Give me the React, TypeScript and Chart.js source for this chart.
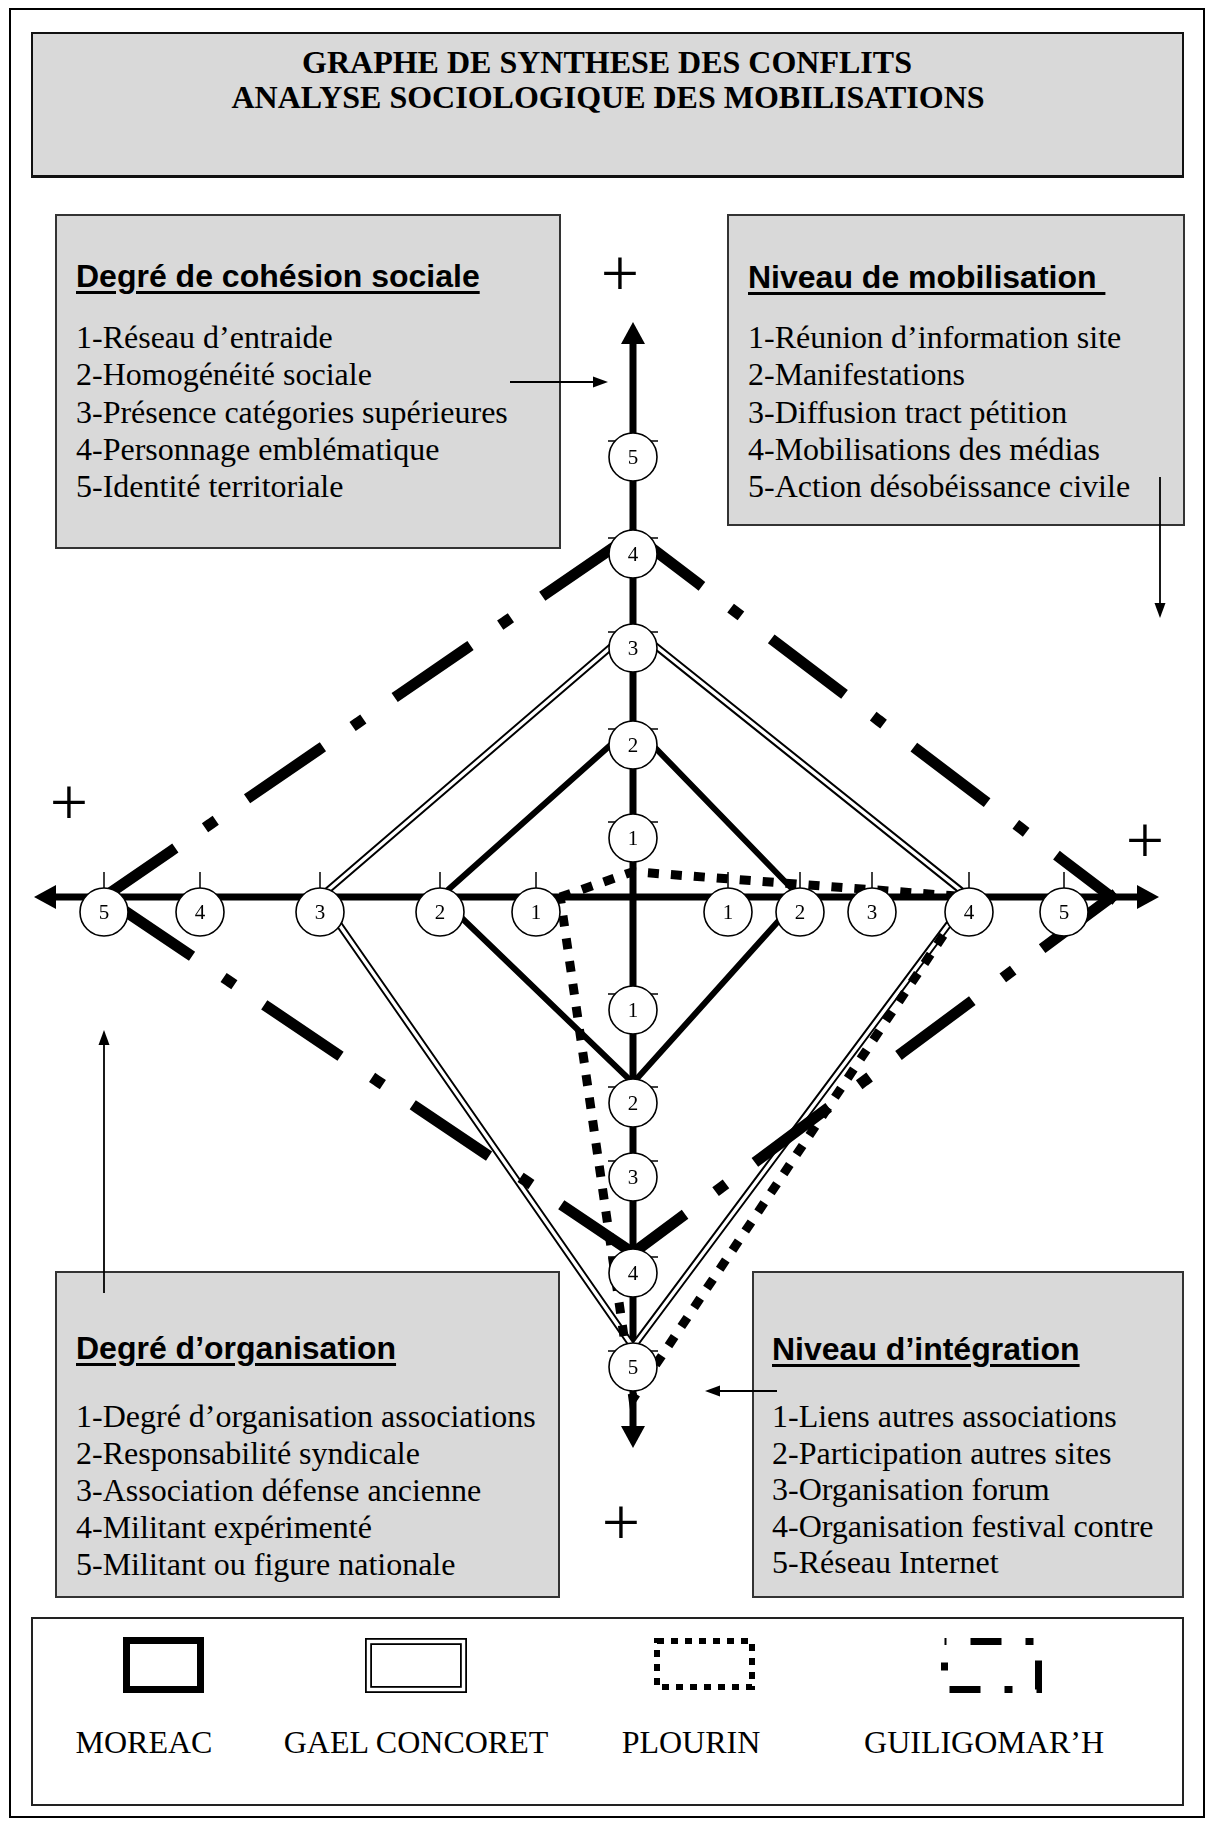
import React, { useEffect, useRef } from 'react';
import { Chart, registerables } from 'chart.js';

Chart.register(...registerables);

// ---------------- data ----------------
const TITLE_LINES = ['GRAPHE DE SYNTHESE DES CONFLITS', 'ANALYSE SOCIOLOGIQUE DES MOBILISATIONS'];

const AXIS_TITLES = ['Degré de cohésion sociale', 'Niveau de mobilisation ', 'Niveau d’intégration', 'Degré d’organisation'];
const COHESION_ITEMS = ['1-Réseau d’entraide', '2-Homogénéité sociale', '3-Présence catégories supérieures', '4-Personnage emblématique', '5-Identité territoriale'];
const MOBILISATION_ITEMS = ['1-Réunion d’information site', '2-Manifestations', '3-Diffusion tract pétition', '4-Mobilisations des médias', '5-Action désobéissance civile'];
const INTEGRATION_ITEMS = ['1-Liens autres associations', '2-Participation autres sites', '3-Organisation forum', '4-Organisation festival contre', '5-Réseau Internet'];
const ORGANISATION_ITEMS = ['1-Degré d’organisation associations', '2-Responsabilité syndicale', '3-Association défense ancienne', '4-Militant expérimenté', '5-Militant ou figure nationale'];

const LEVEL_LABELS = ['1', '2', '3', '4', '5'];
// graduation distances from the crossing of the axes (scale units), levels 1..5
const TOP_GRAD = [79, 172, 269, 363, 460];      // cohésion sociale
const RIGHT_GRAD = [95, 167, 239, 336, 431];    // mobilisation
const BOTTOM_GRAD = [93, 186, 260, 356, 450];   // intégration
const LEFT_GRAD = [97, 193, 313, 433, 529];     // organisation

const SERIES_NAMES = ['MOREAC', 'GAEL CONCORET', 'PLOURIN', 'GUILIGOMAR’H'];
// levels: [cohésion (top), mobilisation (right), intégration (bottom), organisation (left)]
const MOREAC = [2, 2, 2, 2];
const GAEL_CONCORET = [3, 4, 5, 3];
const PLOURIN = [0.32, 4, 5.55, 0.75];
const GUILIGOMARH = [4, 5.5, 4, 5];

// ---------------- layout ----------------
const W = 1210;
const H = 1825;
const CX = 633; // crossing of the axes on the page
const CY = 897;
const AXIS_END = { left: 599, right: 526, top: 575, bottom: 551 };

const SERIF = '"Liberation Serif", "Times New Roman", serif';
const SANS = '"Liberation Sans", Arial, sans-serif';

function dist(grad: number[], level: number): number {
  if (level <= 1) return grad[0] * level;
  let i = Math.floor(level) - 1;
  if (i > grad.length - 2) i = grad.length - 2;
  const t = level - (i + 1);
  return grad[i] + (grad[i + 1] - grad[i]) * t;
}

function polygon(levels: number[]) {
  const left = { x: -dist(LEFT_GRAD, levels[3]), y: 0 };
  return [
    left,
    { x: 0, y: dist(TOP_GRAD, levels[0]) },
    { x: dist(RIGHT_GRAD, levels[1]), y: 0 },
    { x: 0, y: -dist(BOTTOM_GRAD, levels[2]) },
    { ...left },
  ];
}

const GUILI_W = 11;
// dash, gap, dot, gap (square caps add the line width to each piece)
const GUILI_DASH = [92 - GUILI_W, 36 + GUILI_W, 13 - GUILI_W, 38 + GUILI_W];

const LEGEND_RECTS = [
  [123, 1637, 204, 1693],
  [365, 1638, 467, 1693],
  [654, 1638, 755, 1690],
  [941, 1638, 1042, 1693],
];
const LEGEND_LABEL_X = [144, 416, 691, 984];

function arrowHead(ctx: CanvasRenderingContext2D, tx: number, ty: number, dx: number, dy: number, len: number, half: number) {
  const bx = tx - dx * len, by = ty - dy * len;
  ctx.beginPath();
  ctx.moveTo(tx, ty);
  ctx.lineTo(bx - dy * half, by + dx * half);
  ctx.lineTo(bx + dy * half, by - dx * half);
  ctx.closePath();
  ctx.fill();
}

function thinArrow(ctx: CanvasRenderingContext2D, x0: number, y0: number, x1: number, y1: number) {
  const L = Math.hypot(x1 - x0, y1 - y0);
  const dx = (x1 - x0) / L, dy = (y1 - y0) / L;
  ctx.lineWidth = 1.8;
  ctx.beginPath();
  ctx.moveTo(x0, y0);
  ctx.lineTo(x1 - dx * 10, y1 - dy * 10);
  ctx.stroke();
  arrowHead(ctx, x1, y1, dx, dy, 15, 5.5);
}

const diagramPlugin = {
  id: 'diagram',
  beforeDatasetsDraw(chart: any) {
    const { ctx, scales } = chart;
    const px = (u: number) => scales.x.getPixelForValue(u);
    const py = (v: number) => scales.y.getPixelForValue(v);
    const ox = px(0), oy = py(0);
    const L = px(-AXIS_END.left), R = px(AXIS_END.right);
    const T = py(AXIS_END.top), B = py(-AXIS_END.bottom);
    ctx.save();
    ctx.strokeStyle = '#000';
    ctx.fillStyle = '#000';
    ctx.lineWidth = 7;
    ctx.lineCap = 'butt';
    ctx.beginPath();
    ctx.moveTo(L + 18, oy);
    ctx.lineTo(R - 18, oy);
    ctx.moveTo(ox, T + 18);
    ctx.lineTo(ox, B - 18);
    ctx.stroke();
    arrowHead(ctx, L, oy, -1, 0, 22, 12);
    arrowHead(ctx, R, oy, 1, 0, 22, 12);
    arrowHead(ctx, ox, T, 0, -1, 22, 12);
    arrowHead(ctx, ox, B, 0, 1, 22, 12);
    ctx.restore();
  },
  afterDatasetsDraw(chart: any) {
    const { ctx, scales } = chart;
    const px = (u: number) => scales.x.getPixelForValue(u);
    const py = (v: number) => scales.y.getPixelForValue(v);
    const ox = px(0), oy = py(0);
    const R = 24;
    ctx.save();
    ctx.strokeStyle = '#000';
    ctx.fillStyle = '#000';
    const bubble = (cx: number, cy: number, label: string) => {
      ctx.beginPath();
      ctx.arc(cx, cy, R, 0, Math.PI * 2);
      ctx.fillStyle = '#fff';
      ctx.fill();
      ctx.lineWidth = 1.6;
      ctx.strokeStyle = '#000';
      ctx.stroke();
      ctx.fillStyle = '#000';
      ctx.font = `21px ${SERIF}`;
      ctx.textAlign = 'center';
      ctx.textBaseline = 'middle';
      ctx.fillText(label, cx, cy + 1);
    };
    const hTick = (x: number) => {
      ctx.lineWidth = 1.5;
      ctx.beginPath();
      ctx.moveTo(x, oy - 25);
      ctx.lineTo(x, oy);
      ctx.stroke();
    };
    const vTick = (cy: number) => {
      ctx.lineWidth = 1.5;
      ctx.beginPath();
      ctx.moveTo(ox - 25, cy - 16);
      ctx.lineTo(ox + 25, cy - 16);
      ctx.stroke();
    };
    LEVEL_LABELS.forEach((lab, i) => {
      const xr = px(RIGHT_GRAD[i]);
      const xl = px(-LEFT_GRAD[i]);
      const yt = py(TOP_GRAD[i]) + 20;
      const yb = py(-BOTTOM_GRAD[i]) + 20;
      hTick(xr); hTick(xl); vTick(yt); vTick(yb);
      bubble(xr, oy + 15, lab);
      bubble(xl, oy + 15, lab);
      bubble(ox, yt, lab);
      bubble(ox, yb, lab);
    });

    // arrows linking each box to its axis
    ctx.strokeStyle = '#000';
    ctx.fillStyle = '#000';
    thinArrow(ctx, 510, 382, 608, 382);
    thinArrow(ctx, 1160, 477, 1160, 618);
    thinArrow(ctx, 104, 1293, 104, 1030);
    thinArrow(ctx, 777, 1391, 705, 1391);

    // legend symbols, styled like the series
    const [m, g, p, q] = LEGEND_RECTS;
    ctx.setLineDash([]);
    ctx.lineCap = 'butt';
    ctx.lineJoin = 'miter';
    ctx.strokeStyle = '#000';
    ctx.lineWidth = 7;
    ctx.strokeRect(m[0] + 3.5, m[1] + 3.5, m[2] - m[0] - 7, m[3] - m[1] - 7);
    ctx.lineWidth = 7;
    ctx.strokeRect(g[0] + 3.5, g[1] + 3.5, g[2] - g[0] - 7, g[3] - g[1] - 7);
    ctx.strokeStyle = '#fff';
    ctx.lineWidth = 3.4;
    ctx.strokeRect(g[0] + 3.5, g[1] + 3.5, g[2] - g[0] - 7, g[3] - g[1] - 7);
    ctx.strokeStyle = '#000';
    ctx.lineWidth = 6;
    ctx.setLineDash([7, 7]);
    ctx.strokeRect(p[0] + 3, p[1] + 3, p[2] - p[0] - 6, p[3] - p[1] - 6);
    ctx.lineWidth = 7;
    ctx.setLineDash([31, 24, 8, 24]);
    ctx.lineDashOffset = 61;
    ctx.strokeRect(q[0] + 3.5, q[1] + 3.5, q[2] - q[0] - 7, q[3] - q[1] - 7);
    ctx.restore();
  },
};

function Text({ x, cy, children, font, size, bold, underline, center, lh }: any) {
  return (
    <div
      style={{
        position: 'absolute',
        left: x,
        top: cy - lh / 2 - (font === SERIF ? 0.5 : 0),
        height: lh,
        lineHeight: `${lh}px`,
        fontFamily: font,
        fontSize: size,
        fontWeight: bold ? 700 : 400,
        whiteSpace: 'pre',
        color: '#000',
        transform: center ? 'translateX(-50%)' : undefined,
        textDecoration: underline ? 'underline' : undefined,
        textDecorationThickness: underline ? '2.5px' : undefined,
        textUnderlineOffset: underline ? '4px' : undefined,
      }}
    >
      {children}
    </div>
  );
}

const BOXES = [
  { left: 55, top: 214, w: 506, h: 335, title: AXIS_TITLES[0], items: COHESION_ITEMS, tx: 76, titleY: 276, itemY: 338, step: 37.25 },
  { left: 727, top: 214, w: 458, h: 312, title: AXIS_TITLES[1], items: MOBILISATION_ITEMS, tx: 748, titleY: 277, itemY: 338, step: 37.25 },
  { left: 55, top: 1271, w: 505, h: 327, title: AXIS_TITLES[3], items: ORGANISATION_ITEMS, tx: 76, titleY: 1348, itemY: 1417, step: 37 },
  { left: 752, top: 1271, w: 432, h: 327, title: AXIS_TITLES[2], items: INTEGRATION_ITEMS, tx: 772, titleY: 1349, itemY: 1417, step: 36.6 },
];

const PLUS = [
  [620, 278],
  [1145, 845],
  [69, 807],
  [621, 1527],
];

export default function App() {
  const ref = useRef<HTMLCanvasElement>(null);

  useEffect(() => {
    const canvas = ref.current;
    if (!canvas) return;
    const seriesLine = (label: string, levels: number[], extra: any) => ({
      label,
      data: polygon(levels),
      showLine: true,
      pointRadius: 0,
      pointHoverRadius: 0,
      borderColor: '#000',
      backgroundColor: 'transparent',
      fill: false,
      tension: 0,
      ...extra,
    });
    const chart = new Chart(canvas, {
      type: 'scatter',
      data: {
        datasets: [
          seriesLine(SERIES_NAMES[0], MOREAC, { borderWidth: 6, borderJoinStyle: 'miter' }),
          seriesLine(SERIES_NAMES[3], GUILIGOMARH, {
            borderWidth: GUILI_W,
            borderDash: GUILI_DASH,
            borderCapStyle: 'square',
            borderJoinStyle: 'miter',
            segment: { borderDashOffset: (c: any) => c.p0DataIndex * 0.001 },
          }),
          seriesLine(SERIES_NAMES[2], PLOURIN, { borderWidth: 9, borderDash: [11, 12], borderCapStyle: 'butt' }),
          seriesLine(SERIES_NAMES[1] + ' (inner)', GAEL_CONCORET, { borderWidth: 3.4, borderColor: '#fff' }),
          seriesLine(SERIES_NAMES[1], GAEL_CONCORET, { borderWidth: 7.4 }),
        ],
      },
      options: {
        responsive: false,
        maintainAspectRatio: false,
        animation: false,
        devicePixelRatio: 1,
        layout: { padding: 0 },
        events: [],
        scales: {
          x: { type: 'linear', min: -CX, max: W - CX, display: false },
          y: { type: 'linear', min: CY - H, max: CY, display: false },
        },
        plugins: {
          legend: { display: false },
          tooltip: { enabled: false },
          title: { display: false },
        },
      },
      plugins: [diagramPlugin],
    } as any);
    return () => chart.destroy();
  }, []);

  return (
    <div style={{ position: 'absolute', left: 0, top: 0, width: W, height: H, background: '#fff', overflow: 'hidden' }}>
      {/* outer frame */}
      <div style={{ position: 'absolute', left: 9, top: 8, width: 1196, height: 1810, border: '2px solid #000', boxSizing: 'border-box' }} />
      {/* title box */}
      <div style={{ position: 'absolute', left: 31, top: 32, width: 1153, height: 146, background: '#d9d9d9', border: '2px solid #111', borderBottomWidth: 3, boxSizing: 'border-box' }} />
      <Text x={607} cy={63} font={SERIF} size={32} bold center lh={35}>{TITLE_LINES[0]}</Text>
      <Text x={608} cy={98} font={SERIF} size={32} bold center lh={35}>{TITLE_LINES[1]}</Text>

      {BOXES.map((b, k) => (
        <React.Fragment key={k}>
          <div style={{ position: 'absolute', left: b.left, top: b.top, width: b.w, height: b.h, background: '#d9d9d9', border: '2px solid #333', boxSizing: 'border-box' }} />
          <Text x={b.tx} cy={b.titleY} font={SANS} size={32} bold underline lh={37}>{b.title}</Text>
          {b.items.map((it, i) => (
            <Text key={i} x={b.tx} cy={b.itemY + i * b.step} font={SERIF} size={32} lh={37}>{it}</Text>
          ))}
        </React.Fragment>
      ))}

      {PLUS.map(([x, y], i) => (
        <div key={i} style={{ position: 'absolute', left: x, top: y - 5, transform: 'translate(-50%, -50%)', fontFamily: SERIF, fontSize: 68, lineHeight: '68px', color: '#000' }}>+</div>
      ))}

      {/* legend */}
      <div style={{ position: 'absolute', left: 31, top: 1617, width: 1153, height: 189, background: '#fff', border: '2px solid #222', boxSizing: 'border-box' }} />
      {SERIES_NAMES.map((n, i) => (
        <Text key={n} x={LEGEND_LABEL_X[i]} cy={1743} font={SERIF} size={32} center lh={37}>{n}</Text>
      ))}

      <canvas ref={ref} width={W} height={H} style={{ position: 'absolute', left: 0, top: 0, width: W, height: H }} />
    </div>
  );
}
